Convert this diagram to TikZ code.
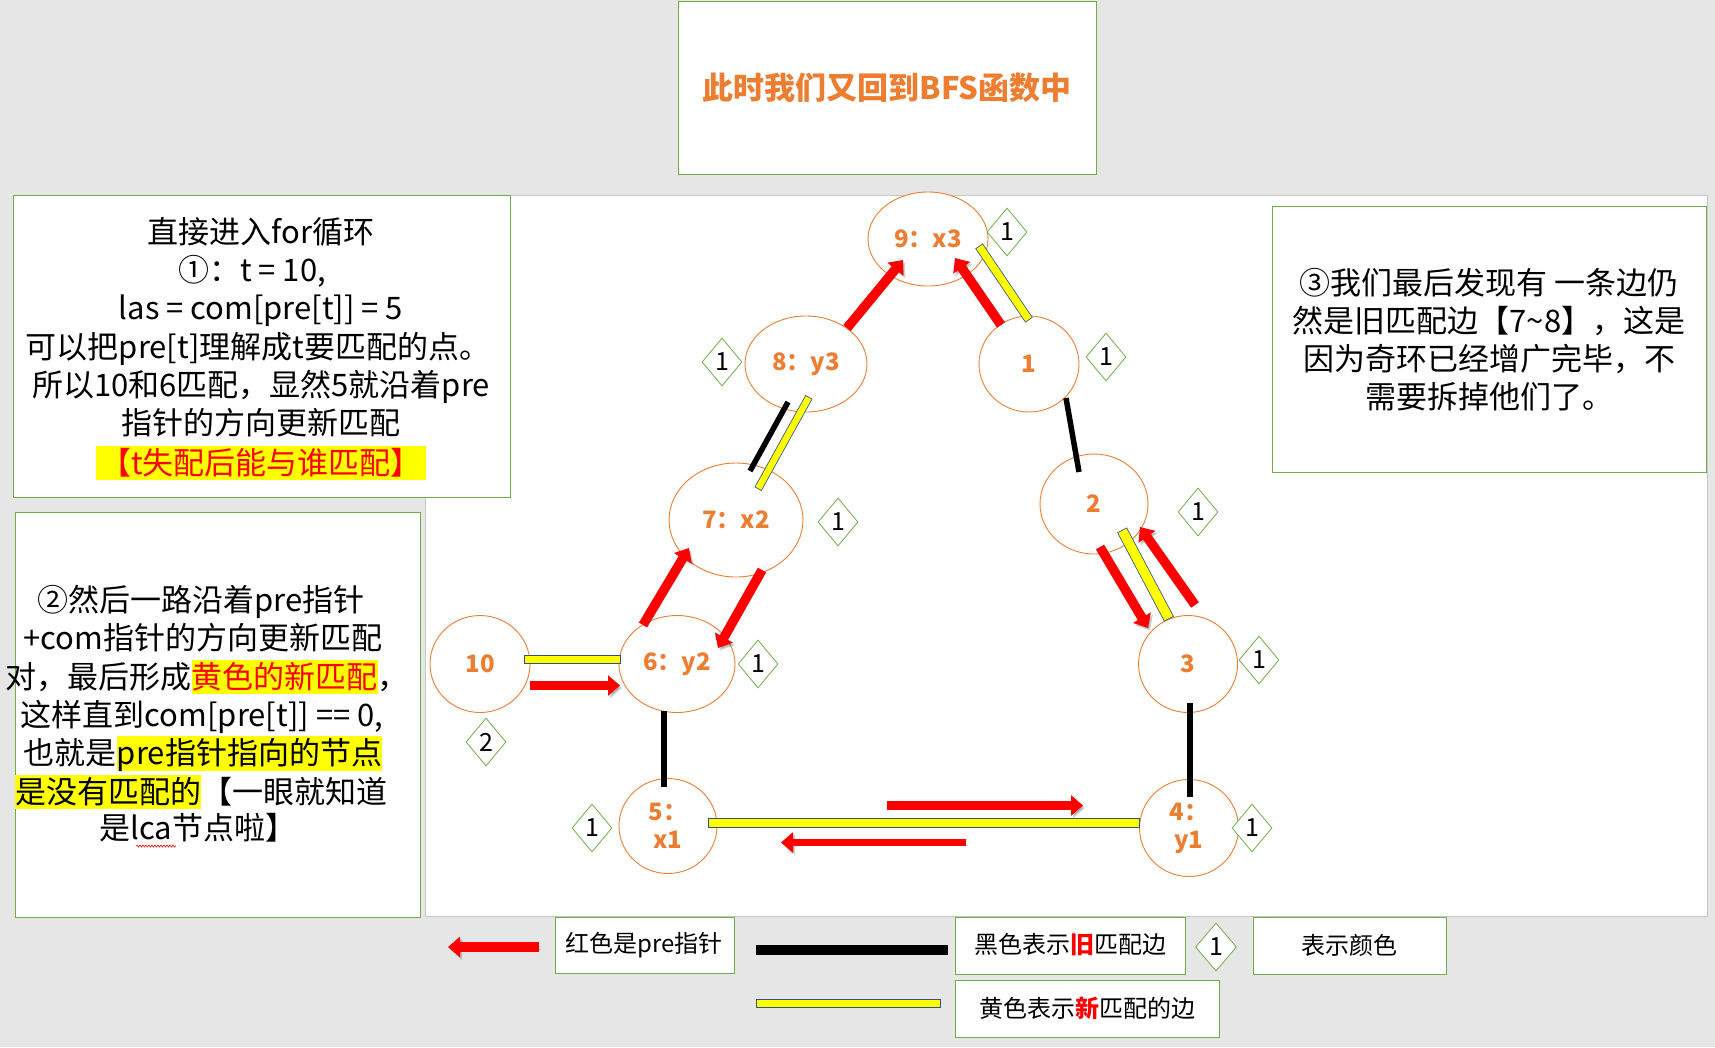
\documentclass[tikz,border=0pt]{standalone}
\usepackage{fontspec}
\setmainfont{Noto Sans CJK SC}
\usetikzlibrary{shapes.geometric,arrows.meta,decorations.pathmorphing}
\definecolor{bgray}{HTML}{E6E6E6}
\definecolor{bgreen}{HTML}{70AD47}
\definecolor{orng}{HTML}{ED7D31}
\definecolor{barblue}{HTML}{2F528F}
\definecolor{hiyel}{HTML}{FFFF00}
\newcommand\hlbox[1]{\begingroup\setlength{\fboxsep}{0pt}\colorbox{hiyel}{\rule[-6pt]{0pt}{34pt}#1}\endgroup}
\newcommand\bigtxt{\fontsize{31}{38}\selectfont}
\begin{document}
\begin{tikzpicture}[x=1pt,y=-1pt,
  greenbox/.style={draw=bgreen,line width=1pt,fill=white},
  txtline/.style={anchor=base,inner sep=0pt,font=\bigtxt},
  ellnode/.style={ellipse,draw=orng,line width=0.9pt,fill=white,inner sep=0pt,
     font=\fontsize{24}{28}\selectfont\bfseries,text=orng,align=center},
  dia/.style={diamond,draw=bgreen,line width=0.8pt,fill=white,inner sep=0pt,
     minimum width=40pt,minimum height=48pt,font=\fontsize{25}{28}\selectfont},
  redarr/.style={draw=red,line width=9.5pt,-{Triangle[length=12pt,width=20pt]},
     preaction={draw=black,opacity=0.18,transform canvas={shift={(2pt,-2.5pt)}}}},
  ybar/.style={draw=barblue,line width=#1,
     postaction={draw=hiyel,line width=#1-1.6pt,shorten <=0.8pt,shorten >=0.8pt}},
  ybar/.default=9pt,
  oldedge/.style={draw=black,line width=5.5pt},
  legtxt/.style={font=\fontsize{24}{28}\selectfont}
]
% background
\fill[bgray] (0,0) rectangle (1715,1047);
\useasboundingbox (0,0) rectangle (1715,1047);
\path[fill=white,draw=black!22,line width=1pt] (425,195) rectangle (1707,916);

% title
\node[greenbox,minimum width=418pt,minimum height=173pt,anchor=north west] (titlebox) at (678,1) {};
\node[font=\fontsize{31}{36}\selectfont\bfseries,text=orng,inner sep=0pt] (title) at (887,88) {此时我们又回到BFS函数中};

% box 1
\node[greenbox,minimum width=497pt,minimum height=302pt,anchor=north west] (box1) at (13,195) {};
\node[txtline] (b1l1) at (261,243) {直接进入for循环};
\node[txtline] (b1l2) at (252,281) {①：t = 10,};
\node[txtline] (b1l3) at (261,319) {las = com[pre[t]] = 5};
\node[txtline] (b1l4) at (258,358) {可以把pre[t]理解成t要匹配的点。};
\node[txtline] (b1l5) at (261,396) {所以10和6匹配，显然5就沿着pre};
\node[txtline] (b1l6) at (261,434) {指针的方向更新匹配};
\node[txtline,fill=hiyel,text=red,text height=28pt,text depth=6pt,inner xsep=4pt] (b1l7) at (261,474) {【t失配后能与谁匹配】};

% box 2
\node[greenbox,minimum width=405pt,minimum height=405pt,anchor=north west] (box2) at (15,512) {};
\node[txtline] (b2l1) at (201,611) {②然后一路沿着pre指针};
\node[txtline] (b2l2) at (203,649) {+com指针的方向更新匹配};
\node[txtline] (b2l3) at (207,688) {对，最后形成\hlbox{\textcolor{red}{黄色的新匹配}}，};
\node[txtline] (b2l4) at (202,726) {这样直到com[pre[t]] == 0,};
\node[txtline] (b2l5) at (203,764) {也就是\hlbox{pre指针指向的节点}};
\node[txtline] (b2l6) at (201,803) {\hlbox{是没有匹配的}【一眼就知道};
\node[txtline] (b2l7) at (198,839) {是lca节点啦】};
\coordinate (wv1) at (136,846);
\coordinate (wv2) at (176,846);
\draw[red,line width=0.6pt,decorate,decoration={snake,amplitude=1pt,segment length=3pt}] (wv1) -- (wv2);

% box 3
\node[greenbox,minimum width=434pt,minimum height=266pt,anchor=north west] (box3) at (1272,206) {};
\node[txtline] (b3l1) at (1489,294) {③我们最后发现有 一条边仍};
\node[txtline] (b3l2) at (1489,332) {然是旧匹配边【7\textasciitilde8】，这是};
\node[txtline] (b3l3) at (1489,370) {因为奇环已经增广完毕，不};
\node[txtline] (b3l4) at (1489,408) {需要拆掉他们了。};

% graph nodes
\node[ellnode,minimum width=120pt,minimum height=94pt] (n9) at (928,239) {9：x3};
\node[ellnode,minimum width=122pt,minimum height=96pt] (n8) at (806,364) {8：y3};
\node[ellnode,minimum width=100pt,minimum height=96pt] (n1) at (1029,364) {1};
\node[ellnode,minimum width=134pt,minimum height=114pt] (n7) at (736,520) {7：x2};
\node[ellnode,minimum width=108pt,minimum height=100pt] (n2) at (1094,504) {2};
\node[ellnode,minimum width=100pt,minimum height=97pt] (n10) at (480,664) {10};
\node[ellnode,minimum width=116pt,minimum height=97pt] (n6) at (677,664) {6：y2};
\node[ellnode,minimum width=99pt,minimum height=97pt] (n3) at (1188,664) {3};
\node[ellnode,minimum width=98pt,minimum height=95pt] (n5) at (668,826) {5：\\x1};
\node[ellnode,minimum width=99pt,minimum height=97pt] (n4) at (1189,828) {4：\\y1};

% diamonds
\node[dia] (d9) at (1007,232) {1};
\node[dia] (d8) at (722,362) {1};
\node[dia] (d1) at (1106,357) {1};
\node[dia] (d7) at (838,522) {1};
\node[dia] (d2) at (1198,512) {1};
\node[dia] (d3) at (1259,660) {1};
\node[dia] (d10) at (486,742) {2};
\node[dia] (d6) at (758,664) {1};
\node[dia] (d5) at (592,828) {1};
\node[dia] (d4) at (1252,828) {1};

% connector end points
\coordinate (e87a) at (788,402);  \coordinate (e87b) at (750,471);
\coordinate (e12a) at (1066,398); \coordinate (e12b) at (1079,472);
\coordinate (e65a) at (664,711);  \coordinate (e65b) at (664,787);
\coordinate (e34a) at (1190,703); \coordinate (e34b) at (1190,797);
\coordinate (y91a) at (979,246);  \coordinate (y91b) at (1029,320);
\coordinate (y87a) at (809,397);  \coordinate (y87b) at (758,489);
\coordinate (y23a) at (1122,530); \coordinate (y23b) at (1169,619);
\coordinate (y106a) at (524,659.5); \coordinate (y106b) at (621,659.5);
\coordinate (y54a) at (708,823);  \coordinate (y54b) at (1140,823);
\coordinate (r1a) at (847,328);   \coordinate (r1b) at (903,260);
\coordinate (r2a) at (1001,325);  \coordinate (r2b) at (955,258);
\coordinate (r3a) at (643,625);   \coordinate (r3b) at (689,548);
\coordinate (r4a) at (762,570);   \coordinate (r4b) at (718,648);
\coordinate (r5a) at (530,685.5); \coordinate (r5b) at (620,685.5);
\coordinate (r6a) at (887,805.5); \coordinate (r6b) at (1083,805.5);
\coordinate (r7a) at (966,842.5); \coordinate (r7b) at (781,842.5);
\coordinate (r8a) at (1100,547);  \coordinate (r8b) at (1148,628);
\coordinate (r9a) at (1195,605);  \coordinate (r9b) at (1140,527);

% old matching edges (black)
\draw[oldedge] (e87a) -- (e87b);
\draw[oldedge] (e12a) -- (e12b);
\draw[oldedge,line width=6pt] (e65a) -- (e65b);
\draw[oldedge,line width=6pt] (e34a) -- (e34b);

% new matching edges (yellow)
\path[ybar=9pt] (y91a) -- (y91b);
\path[ybar=8pt] (y87a) -- (y87b);
\path[ybar=11pt] (y23a) -- (y23b);
\path[ybar=9pt] (y106a) -- (y106b);
\path[ybar=10pt] (y54a) -- (y54b);

% pre pointers (red)
\draw[redarr] (r1a) -- (r1b);
\draw[redarr] (r2a) -- (r2b);
\draw[redarr] (r3a) -- (r3b);
\draw[redarr] (r4a) -- (r4b);
\draw[redarr] (r5a) -- (r5b);
\draw[redarr] (r6a) -- (r6b);
\draw[redarr,line width=7.5pt] (r7a) -- (r7b);
\draw[redarr] (r8a) -- (r8b);
\draw[redarr] (r9a) -- (r9b);

% legend
\coordinate (lra) at (539,947); \coordinate (lrb) at (448,947);
\draw[redarr] (lra) -- (lrb);
\node[greenbox,legtxt,minimum width=179pt,minimum height=56pt,anchor=north west] (lg1) at (555,917) {};
\node[legtxt] (lg1t) at (644,945) {红色是pre指针};
\coordinate (lba) at (756,950); \coordinate (lbb) at (948,950);
\draw[draw=black,line width=10pt] (lba) -- (lbb);
\node[greenbox,minimum width=230pt,minimum height=57pt,anchor=north west] (lg2) at (955,917) {};
\node[legtxt] (lg2t) at (1070,945) {黑色表示\textcolor{red}{\bfseries 旧}匹配边};
\node[dia,minimum width=41pt] (lgd) at (1216,947) {1};
\node[greenbox,minimum width=193pt,minimum height=57pt,anchor=north west] (lg3) at (1253,917) {};
\node[legtxt] (lg3t) at (1349,945) {表示颜色};
\coordinate (lya) at (756,1003.5); \coordinate (lyb) at (941,1003.5);
\path[ybar=9pt] (lya) -- (lyb);
\node[greenbox,minimum width=264pt,minimum height=57pt,anchor=north west] (lg4) at (955,980) {};
\node[legtxt] (lg4t) at (1087,1008) {黄色表示\textcolor{red}{\bfseries 新}匹配的边};
\end{tikzpicture}
\end{document}
